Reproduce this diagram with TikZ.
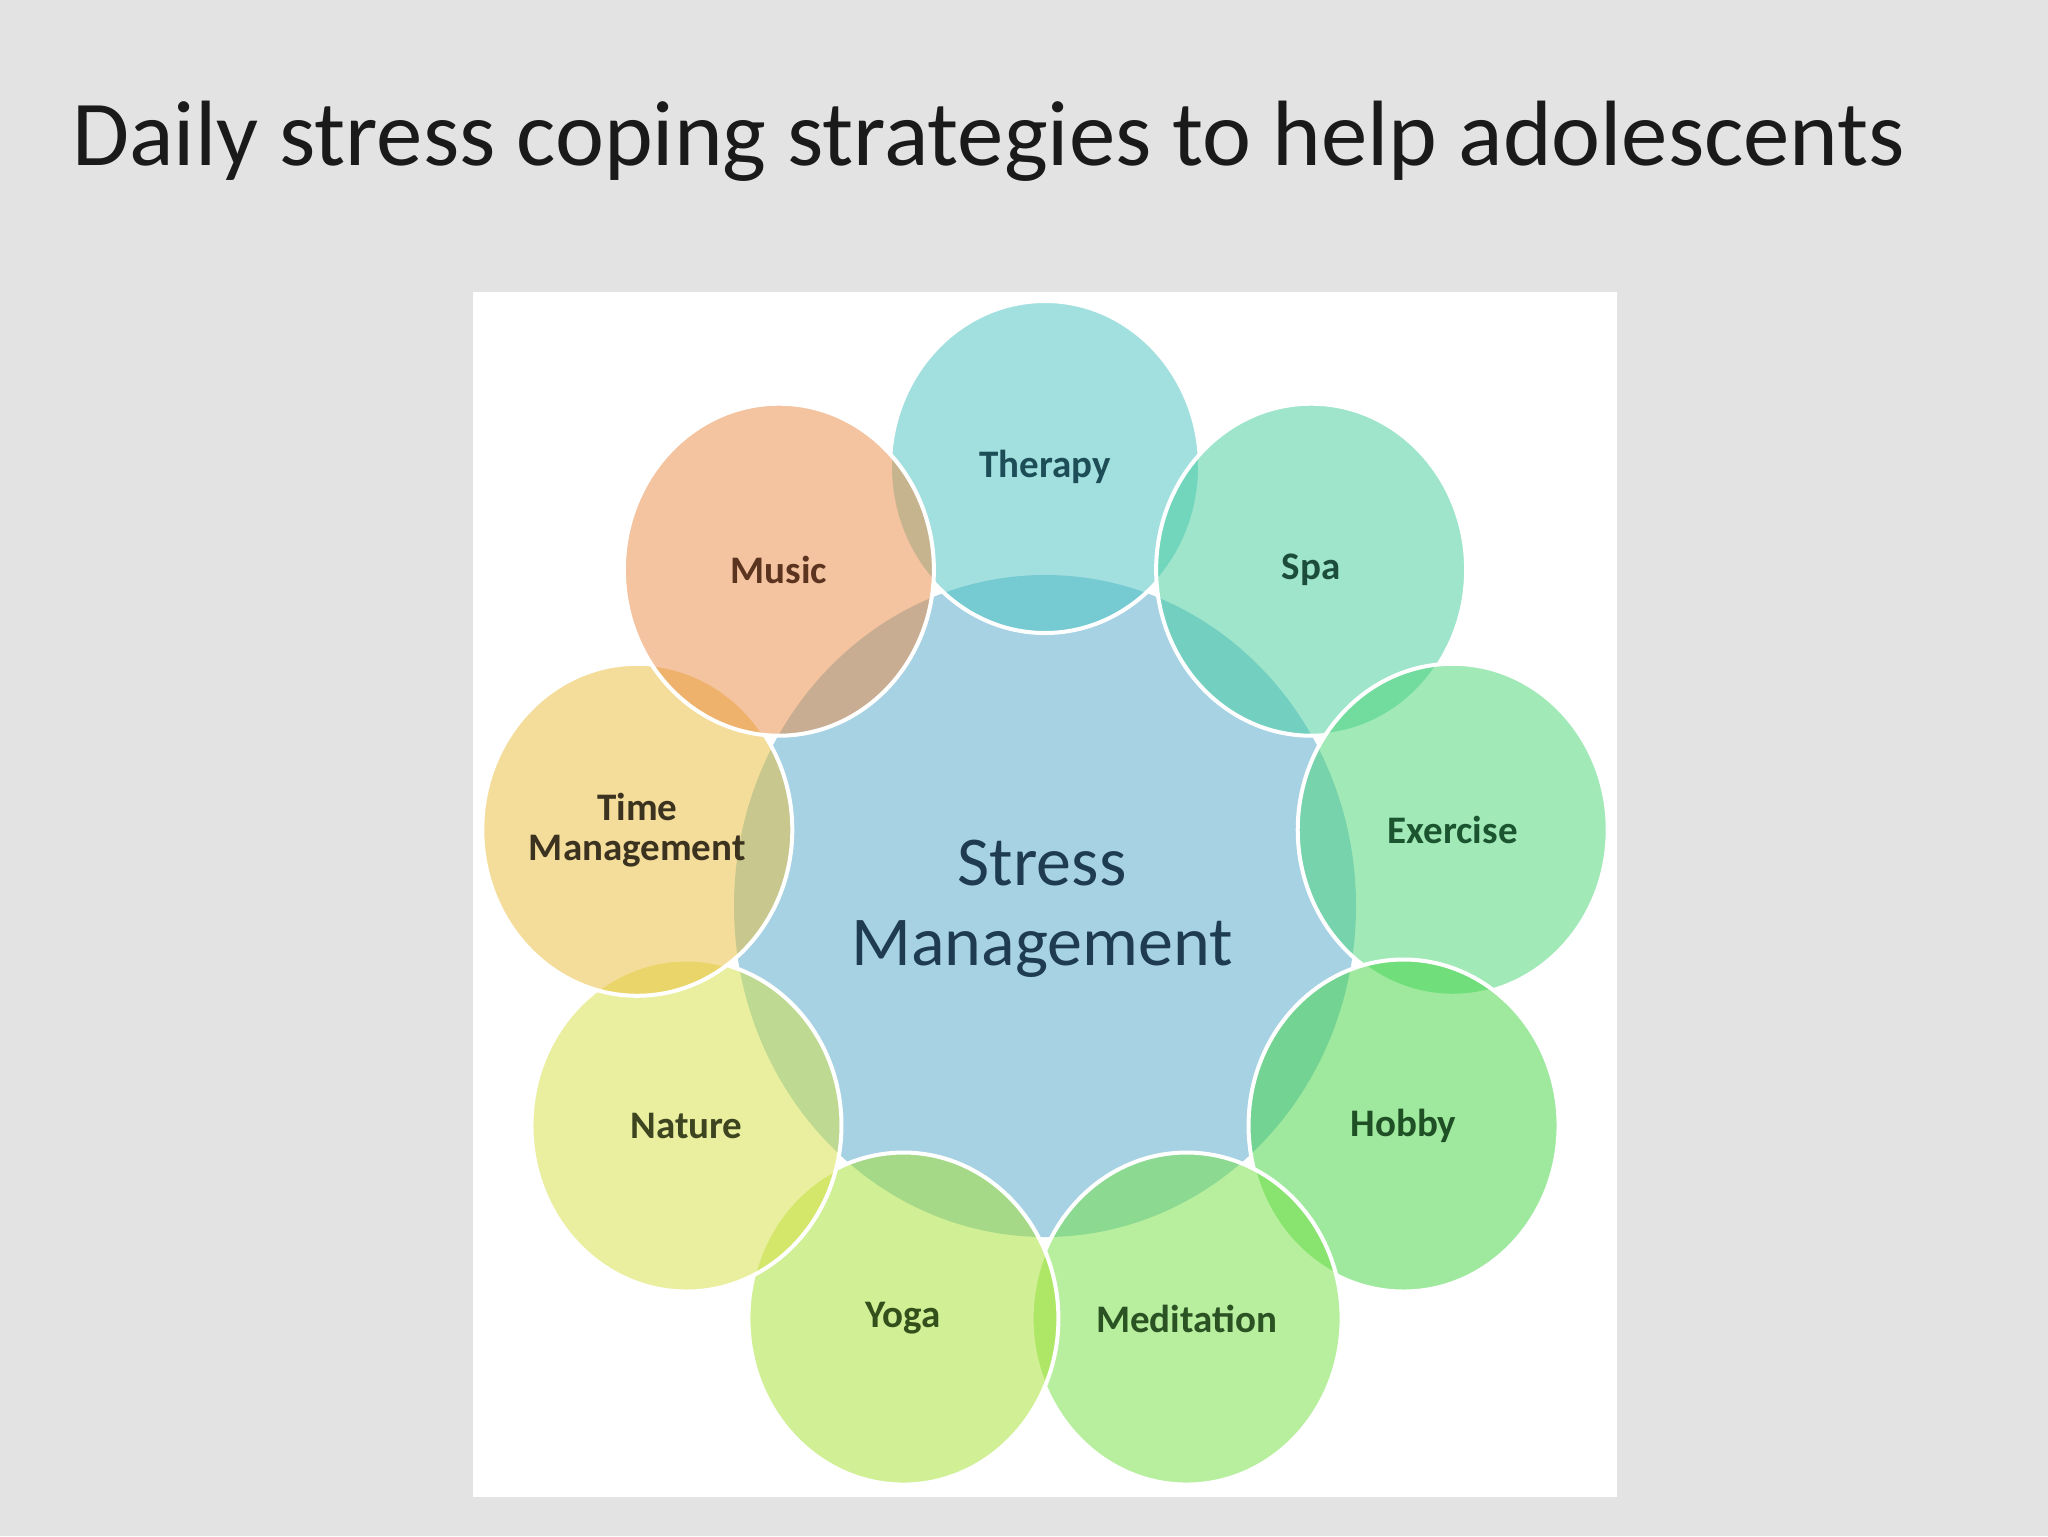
\documentclass[tikz,border=0pt]{standalone}
\usepackage{fontspec}
\setmainfont{Carlito}
\definecolor{bgc}{HTML}{E3E3E3}
\definecolor{titlec}{HTML}{1A1A1A}
\definecolor{cCenter}{HTML}{A6D2E4}
\definecolor{cTher}{RGB}{71,195,193}
\definecolor{cSpa}{RGB}{65,205,155}
\definecolor{cExer}{RGB}{71,213,115}
\definecolor{cHobby}{RGB}{65,213,65}
\definecolor{cMedi}{RGB}{115,225,65}
\definecolor{cYoga}{RGB}{165,225,45}
\definecolor{cNat}{RGB}{215,225,65}
\definecolor{cTime}{RGB}{235,189,55}
\definecolor{cMusic}{RGB}{235,137,65}
\definecolor{tTher}{HTML}{1D4E57}
\definecolor{tSpa}{HTML}{1C4D3C}
\definecolor{tExer}{HTML}{1B5530}
\definecolor{tHobby}{HTML}{1F4F25}
\definecolor{tMedi}{HTML}{2B5222}
\definecolor{tYoga}{HTML}{33501C}
\definecolor{tNat}{HTML}{3D4420}
\definecolor{tTime}{HTML}{3B3320}
\definecolor{tMusic}{HTML}{5B3420}
\definecolor{tCenter}{HTML}{1E3B50}
\tikzset{
  petallabel/.style={font=\bfseries\fontsize{19.5pt}{20pt}\selectfont, align=center, inner sep=0pt},
  petaledge/.style={draw=white, line width=2pt},
  petalfill/.style={fill opacity=0.5},
}
\begin{document}
\begin{tikzpicture}[x=0.5pt,y=-0.5pt]
\useasboundingbox (0,0) rectangle (2048,1536);
\fill[bgc] (0,0) rectangle (2048,1536);
\node[anchor=base west, inner sep=0pt, text=titlec, font=\fontsize{46.4pt}{50pt}\selectfont] (title) at (72,165) {Daily stress coping strategies to help adolescents};
\fill[white] (473,292) rectangle (1617,1497);
\coordinate (C) at (1045,906);
\fill[cCenter] (C) ellipse [x radius=311, y radius=331];
\foreach \nm/\ang/\col in {ther/90/cTher, spa/50/cSpa, exer/10/cExer, hobby/-30/cHobby, medi/-70/cMedi, yoga/-110/cYoga, nat/-150/cNat, time/170/cTime, music/130/cMusic}{
  \coordinate (\nm) at ({1045+414*cos(\ang)},{906-439*sin(\ang)});
  \fill[petalfill, \col] (\nm) ellipse [x radius=155, y radius=166];
  \draw[petaledge] (\nm) ellipse [x radius=155, y radius=166];
}
\node[petallabel, text=tTher] (lther) at (ther) {Therapy};
\node[petallabel, text=tSpa] (lspa) at (spa) {Spa};
\node[petallabel, text=tExer] (lexer) at (exer) {Exercise};
\node[petallabel, text=tHobby] (lhobby) at (hobby) {Hobby};
\node[petallabel, text=tMedi] (lmedi) at (medi) {Meditation};
\node[petallabel, text=tYoga] (lyoga) at (yoga) {Yoga};
\node[petallabel, text=tNat] (lnat) at (nat) {Nature};
\node[petallabel, text=tTime] (ltime) at (time) {Time\\Management};
\node[petallabel, text=tMusic] (lmusic) at (music) {Music};
\node[align=center, inner sep=0pt, text=tCenter, font=\fontsize{35pt}{40pt}\selectfont] (lcenter) at (1042,909) {Stress\\Management};
\end{tikzpicture}
\end{document}
